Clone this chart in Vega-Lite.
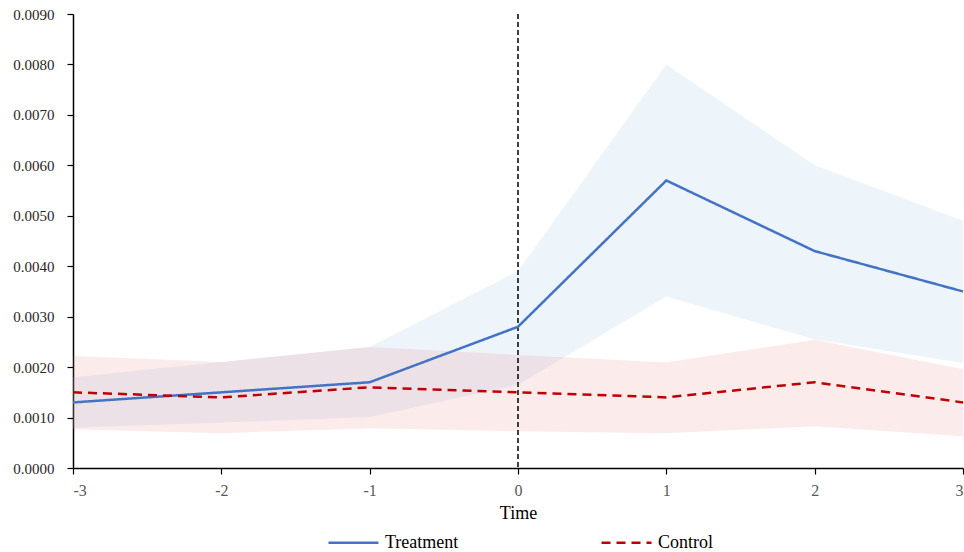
{
  "$schema": "https://vega.github.io/schema/vega-lite/v6.json",
  "width": 890,
  "height": 454,
  "autosize": "none",
  "padding": {"left": 73, "top": 14, "right": 1, "bottom": 84},
  "background": "white",
  "config": {
    "view": {"stroke": null},
    "font": "Liberation Serif",
    "axis": {"grid": false, "domainColor": "black", "tickColor": "black", "labelColor": "#262626", "titleColor": "black", "labelFont": "Liberation Serif", "titleFont": "Liberation Serif", "labelFontSize": 15, "titleFontSize": 18, "titleFontWeight": "normal", "domainWidth": 1.5, "tickWidth": 1.2}
  },
  "datasets": {
    "est": [
      {"t": -3, "series": "Treatment", "value": 0.0013, "lo": 0.0008, "hi": 0.0018},
      {"t": -2, "series": "Treatment", "value": 0.0015, "lo": 0.0009, "hi": 0.0021},
      {"t": -1, "series": "Treatment", "value": 0.0017, "lo": 0.00101, "hi": 0.0024},
      {"t": 0, "series": "Treatment", "value": 0.0028, "lo": 0.00165, "hi": 0.0039},
      {"t": 1, "series": "Treatment", "value": 0.0057, "lo": 0.0034, "hi": 0.0080},
      {"t": 2, "series": "Treatment", "value": 0.0043, "lo": 0.00255, "hi": 0.0060},
      {"t": 3, "series": "Treatment", "value": 0.0035, "lo": 0.00208, "hi": 0.0049},
      {"t": -3, "series": "Control", "value": 0.0015, "lo": 0.00077, "hi": 0.00222},
      {"t": -2, "series": "Control", "value": 0.0014, "lo": 0.00069, "hi": 0.0021},
      {"t": -1, "series": "Control", "value": 0.0016, "lo": 0.00079, "hi": 0.0024},
      {"t": 0, "series": "Control", "value": 0.0015, "lo": 0.00073, "hi": 0.00224},
      {"t": 1, "series": "Control", "value": 0.0014, "lo": 0.00069, "hi": 0.00209},
      {"t": 2, "series": "Control", "value": 0.0017, "lo": 0.00083, "hi": 0.00254},
      {"t": 3, "series": "Control", "value": 0.0013, "lo": 0.00063, "hi": 0.00196}
    ],
    "vline": [{"t": 0}]
  },
  "layer": [
    {
      "data": {"name": "est"},
      "transform": [{"filter": "datum.series === 'Treatment'"}],
      "mark": {"type": "area", "color": "#9DC3E6", "opacity": 0.18},
      "encoding": {
        "x": {"field": "t", "type": "quantitative", "scale": {"domain": [-3, 3], "nice": false}, "axis": {"values": [-3, -2, -1, 0, 1, 2, 3], "labelExpr": "toString(datum.value)", "labelColor": "#595959", "labelFontSize": 16, "title": "Time", "tickSize": 6, "labelPadding": 8, "titleY": 45, "titleBaseline": "middle"}},
        "y": {"field": "lo", "type": "quantitative", "scale": {"domain": [0, 0.009], "nice": false}, "axis": {"values": [0, 0.001, 0.002, 0.003, 0.004, 0.005, 0.006, 0.007, 0.008, 0.009], "format": ".4f", "title": null, "tickSize": 6, "labelPadding": 13}},
        "y2": {"field": "hi"}
      }
    },
    {
      "data": {"name": "est"},
      "transform": [{"filter": "datum.series === 'Control'"}],
      "mark": {"type": "area", "color": "#E06666", "opacity": 0.13},
      "encoding": {
        "x": {"field": "t", "type": "quantitative"},
        "y": {"field": "lo", "type": "quantitative"},
        "y2": {"field": "hi"}
      }
    },
    {
      "data": {"name": "vline"},
      "mark": {"type": "rule", "color": "black", "strokeWidth": 1.5, "strokeDash": [5, 3]},
      "encoding": {
        "x": {"field": "t", "type": "quantitative"}
      }
    },
    {
      "data": {"name": "est"},
      "mark": {"type": "line", "strokeWidth": 2.5},
      "encoding": {
        "x": {"field": "t", "type": "quantitative"},
        "y": {"field": "value", "type": "quantitative"},
        "color": {"field": "series", "type": "nominal", "sort": ["Treatment", "Control"], "scale": {"domain": ["Treatment", "Control"], "range": ["#4472C4", "#C00000"]}, "legend": {"title": null, "orient": "none", "direction": "horizontal", "legendX": 254, "legendY": 502, "symbolType": "stroke", "symbolSize": 2500, "symbolStrokeWidth": 2.5, "labelFontSize": 18, "labelFont": "Liberation Serif", "labelColor": "black", "columnPadding": 137, "labelOffset": 5}},
        "strokeDash": {"field": "series", "type": "nominal", "sort": ["Treatment", "Control"], "scale": {"domain": ["Treatment", "Control"], "range": [[1, 0], [9, 6]]}, "legend": {"title": null, "orient": "none", "direction": "horizontal", "legendX": 254, "legendY": 502, "symbolType": "stroke", "symbolSize": 2500, "symbolStrokeWidth": 2.5, "labelFontSize": 18, "labelFont": "Liberation Serif", "labelColor": "black", "columnPadding": 137, "labelOffset": 5}}
      }
    }
  ]
}
